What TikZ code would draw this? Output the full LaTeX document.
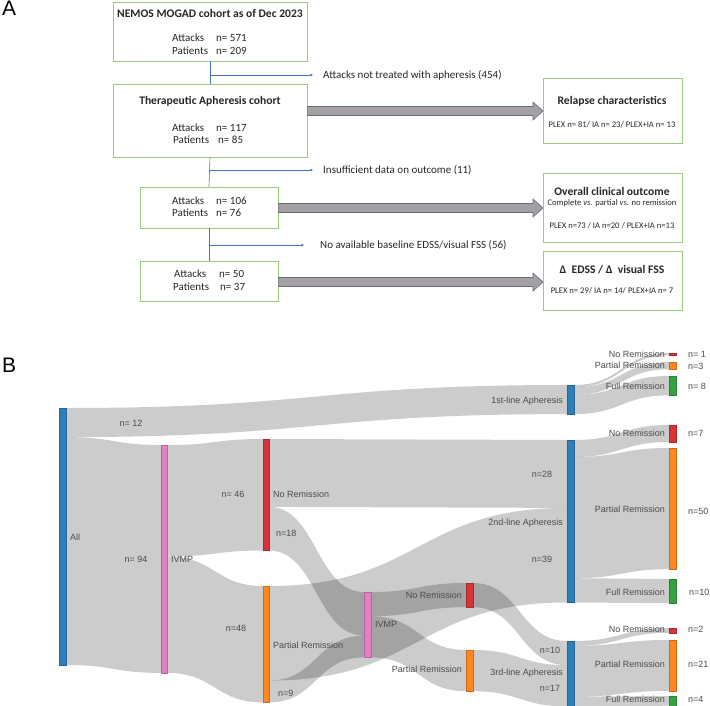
\documentclass[tikz,border=0pt]{standalone}
\usepackage{fontspec}
\setmainfont{Carlito}
\newfontfamily\arialf{Liberation Sans}
\usetikzlibrary{arrows.meta}
\definecolor{boxgreen}{RGB}{155,204,125}
\definecolor{lineblue}{RGB}{68,114,196}
\definecolor{arrfill}{RGB}{165,160,162}
\definecolor{arrdraw}{RGB}{105,110,125}
\definecolor{sbblue}{RGB}{46,126,187}
\definecolor{sbpink}{RGB}{228,128,198}
\definecolor{sbred}{RGB}{214,52,54}
\definecolor{sborange}{RGB}{253,136,32}
\definecolor{sbgreen}{RGB}{52,162,62}
\definecolor{labgray}{RGB}{75,75,75}
\tikzset{
  abox/.style={draw=boxgreen, line width=0.8pt, inner sep=0pt},
  atext/.style={font=\fontsize{11}{13}\selectfont, inner sep=0pt, text=black!85},
  atitle/.style={font=\bfseries\fontsize{11.6}{13}\selectfont, inner sep=0pt, text=black!85},
  asmall/.style={font=\fontsize{8.6}{10}\selectfont, inner sep=0pt, text=black!85},
  bline/.style={draw=lineblue, line width=0.6pt},
  barrow/.style={fill=arrfill, draw=arrdraw, line width=0.6pt},
  flowfill/.style={fill=black, fill opacity=0.2},
  slab/.style={font=\arialf\fontsize{9}{10}\selectfont, text=labgray, inner sep=0pt},
  panel/.style={font=\arialf\fontsize{21}{21}\selectfont, inner sep=0pt},
}
\newcommand{\sflow}[6]{\fill[flowfill] (#1,#2) .. controls ({(#1+#4)/2},#2) and ({(#1+#4)/2},#5) .. (#4,#5) -- (#4,#6) .. controls ({(#1+#4)/2},#6) and ({(#1+#4)/2},#3) .. (#1,#3) -- cycle;}
\newcommand{\sbar}[6]{\draw[fill=#2, draw=#2!80!black, line width=0.4pt] (#3,#4) rectangle (#5,#6); \coordinate (#1) at ({(#3+#5)/2},{(#4+#6)/2});}
\newcommand{\blockarr}[4]{\draw[barrow] (#1,#4-4.5) -- (#2,#4-4.5) -- (#2,#4-9) -- (#3,#4) -- (#2,#4+9) -- (#2,#4+4.5) -- (#1,#4+4.5) -- cycle;}
\begin{document}
\begin{tikzpicture}[x=1pt,y=-1pt]
\useasboundingbox (0,0) rectangle (710,706);
% ---------------- Panel A ----------------
\node[panel, anchor=base west] (lA) at (2,16) {A};
\node[abox, minimum width=194pt, minimum height=59pt] (b1) at (210,31.5) {};
\node[abox, minimum width=194pt, minimum height=73pt] (b2) at (210,120.5) {};
\node[abox, minimum width=138pt, minimum height=41pt] (b3) at (209,207.5) {};
\node[abox, minimum width=138pt, minimum height=40pt] (b4) at (209,281) {};
\node[abox, minimum width=139pt, minimum height=65pt] (r1) at (612.5,110.5) {};
\node[abox, minimum width=139pt, minimum height=69pt] (r2) at (612.5,207.5) {};
\node[abox, minimum width=139pt, minimum height=59pt] (r3) at (612.5,280.5) {};
% box texts
\node[atitle] (b1t) at (210,13) {NEMOS MOGAD cohort as of Dec 2023};
\node[atext, anchor=west] (b1a) at (172,38) {Attacks};
\node[atext, anchor=west] (b1an) at (216,38) {n= 571};
\node[atext, anchor=west] (b1p) at (172,51) {Patients};
\node[atext, anchor=west] (b1pn) at (216,51) {n= 209};
\node[atitle] (b2t) at (210,101) {Therapeutic Apheresis cohort};
\node[atext, anchor=west] (b2a) at (172,128) {Attacks};
\node[atext, anchor=west] (b2an) at (216,128) {n= 117};
\node[atext, anchor=west] (b2p) at (173,140) {Patients};
\node[atext, anchor=west] (b2pn) at (218,140) {n= 85};
\node[atext, anchor=west] (b3a) at (172,201) {Attacks};
\node[atext, anchor=west] (b3an) at (216,201) {n= 106};
\node[atext, anchor=west] (b3p) at (172,213) {Patients};
\node[atext, anchor=west] (b3pn) at (216,213) {n= 76};
\node[atext, anchor=west] (b4a) at (174,274) {Attacks};
\node[atext, anchor=west] (b4an) at (219,274) {n= 50};
\node[atext, anchor=west] (b4p) at (173,287) {Patients};
\node[atext, anchor=west] (b4pn) at (220,287) {n= 37};
\node[atitle] (r1t) at (612,101) {Relapse characteristics};
\node[asmall] (r1s) at (612,125) {PLEX n= 81/ IA n= 23/ PLEX+IA n= 13};
\node[atitle] (r2t) at (612,191) {Overall clinical outcome};
\node[asmall] (r2u) at (612,203) {Complete \textit{vs.} partial \textit{vs.} no remission};
\node[asmall] (r2s) at (612,226) {PLEX n=73 / IA n=20 / PLEX+IA n=13};
\node[atitle] (r3t) at (612,270) {Δ\ \ EDSS / Δ\ \ visual FSS};
\node[asmall] (r3s) at (612,291) {PLEX n= 29/ IA n= 14/ PLEX+IA n= 7};
% exclusion lines
\draw[bline] (b1.south) -- (b2.north);
\draw[bline] (b2.south) -- (b3.north);
\draw[bline] (b3.south) -- (b4.north);
\coordinate (j1) at (210,75);
\coordinate (j2) at (209.5,170);
\coordinate (j3) at (209,245);
\node[atext, anchor=west] (x1) at (323,75) {Attacks not treated with apheresis (454)};
\node[atext, anchor=west] (x2) at (323,170) {Insufficient data on outcome (11)};
\node[atext, anchor=west] (x3) at (320,245) {No available baseline EDSS/visual FSS (56)};
\draw[bline, -{Stealth[length=3pt,width=2.6pt]}] (j1) -- ([xshift=-10pt]j1 -| x1.west);
\draw[bline, -{Stealth[length=3pt,width=2.6pt]}] (j2) -- ([xshift=-10pt]j2 -| x2.west);
\draw[bline, -{Stealth[length=3pt,width=2.6pt]}] (j3) -- ([xshift=-16pt]j3 -| x3.west);
% block arrows
\blockarr{307.4}{533}{543}{111}
\blockarr{278.4}{533}{543}{208}
\blockarr{278.4}{533}{543}{282}
% ---------------- Panel B ----------------
\node[panel, anchor=base west] (lB) at (2,372) {B};
% flows
\sflow{66}{408}{437.1}{567}{385}{414.1}
\sflow{66}{437.1}{665}{161}{445}{672.9}
\sflow{167}{445}{556.5}{263}{439}{550.5}
\sflow{167}{556.5}{672.9}{263}{586}{702.4}
\sflow{269}{439}{506.9}{567}{440}{507.9}
\sflow{269}{506.9}{550.5}{364}{592}{635.6}
\sflow{269}{586}{680.6}{567}{507.9}{602.5}
\sflow{269}{680.6}{702.4}{364}{635.6}{657.4}
\sflow{371}{592}{616.2}{466}{583}{607.2}
\sflow{371}{616.2}{657.4}{466}{650}{691.2}
\sflow{473}{583}{607.2}{567}{641}{665.2}
\sflow{473}{650}{691.2}{567}{665.2}{706.4}
\sflow{574}{385}{387.4}{669}{353}{355.4}
\sflow{574}{387.4}{394.7}{669}{362}{369.3}
\sflow{574}{394.7}{414.1}{669}{376}{395.4}
\sflow{574}{440}{457}{669}{425}{442}
\sflow{574}{457}{578.2}{669}{448}{569.2}
\sflow{574}{578.2}{602.5}{669}{579}{603.2}
\sflow{574}{641}{645.8}{669}{628}{632.8}
\sflow{574}{645.8}{696.7}{669}{640}{690.9}
\sflow{574}{696.7}{706.4}{669}{696}{705.7}
% bars
\sbar{nAll}{sbblue}{59}{408}{66}{665}
\sbar{nIV}{sbpink}{161}{445}{167}{672.9}
\sbar{nNR}{sbred}{263}{439}{269}{550.5}
\sbar{nPR}{sborange}{263}{586}{269}{702.4}
\sbar{nIV2}{sbpink}{364}{592}{371}{657.4}
\sbar{nNR2}{sbred}{466}{583}{473}{607.2}
\sbar{nPR2}{sborange}{466}{650}{473}{691.2}
\sbar{nA1}{sbblue}{567}{385}{574}{414.1}
\sbar{nA2}{sbblue}{567}{440}{574}{602.5}
\sbar{nA3}{sbblue}{567}{641}{574}{706.4}
\sbar{oNRa}{sbred}{669}{353}{676}{355.4}
\sbar{oPRa}{sborange}{669}{362}{676}{369.3}
\sbar{oFRa}{sbgreen}{669}{376}{676}{395.4}
\sbar{oNRb}{sbred}{669}{425}{676}{442}
\sbar{oPRb}{sborange}{669}{448}{676}{569.2}
\sbar{oFRb}{sbgreen}{669}{579}{676}{603.2}
\sbar{oNRc}{sbred}{669}{628}{676}{632.8}
\sbar{oPRc}{sborange}{669}{640}{676}{690.9}
\sbar{oFRc}{sbgreen}{669}{696}{676}{705.7}
% labels
\node[slab] (l12) at (131,423) {n= 12};
\node[slab, anchor=west] (lAll) at (70,537) {All};
\node[slab] (l94) at (136,559) {n= 94};
\node[slab, anchor=west] (lIV) at (171,559) {IVMP};
\node[slab] (l46) at (233,494) {n= 46};
\node[slab, anchor=west] (lNR) at (273,494) {No Remission};
\node[slab, anchor=west] (l18) at (276,533) {n=18};
\node[slab] (l48) at (236,628) {n=48};
\node[slab, anchor=west] (lPR) at (273,645) {Partial Remission};
\node[slab, anchor=west] (l9) at (278,693) {n=9};
\node[slab, anchor=east] (lA1) at (563,401) {1st-line Apheresis};
\node[slab] (l28) at (542,474) {n=28};
\node[slab, anchor=east] (lA2) at (563,523) {2nd-line Apheresis};
\node[slab] (l39) at (542,559) {n=39};
\node[slab, anchor=east] (lNR2) at (462,595) {No Remission};
\node[slab, anchor=west] (lIV2) at (375,624) {IVMP};
\node[slab, anchor=east] (lPR2) at (462,669) {Partial Remission};
\node[slab] (l10) at (550,650) {n=10};
\node[slab, anchor=east] (lA3) at (563,673) {3rd-line Apheresis};
\node[slab] (l17) at (550,688) {n=17};
\node[slab, anchor=east] (qNRa) at (665,354) {No Remission};
\node[slab, anchor=east] (qPRa) at (665,365) {Partial Remission};
\node[slab, anchor=east] (qFRa) at (665,386) {Full Remission};
\node[slab, anchor=east] (qNRb) at (665,433) {No Remission};
\node[slab, anchor=east] (qPRb) at (665,509) {Partial Remission};
\node[slab, anchor=east] (qFRb) at (665,592) {Full Remission};
\node[slab, anchor=east] (qNRc) at (665,629) {No Remission};
\node[slab, anchor=east] (qPRc) at (665,664) {Partial Remission};
\node[slab, anchor=east] (qFRc) at (665,699) {Full Remission};
\node[slab, anchor=west] (cNRa) at (688,354) {n= 1};
\node[slab, anchor=west] (cPRa) at (688,366) {n=3};
\node[slab, anchor=west] (cFRa) at (688,386) {n= 8};
\node[slab, anchor=west] (cNRb) at (688,433) {n=7};
\node[slab, anchor=west] (cPRb) at (688,511) {n=50};
\node[slab, anchor=west] (cFRb) at (689,592) {n=10};
\node[slab, anchor=west] (cNRc) at (688,629) {n=2};
\node[slab, anchor=west] (cPRc) at (688,664) {n=21};
\node[slab, anchor=west] (cFRc) at (688,699) {n=4};
\end{tikzpicture}
\end{document}
